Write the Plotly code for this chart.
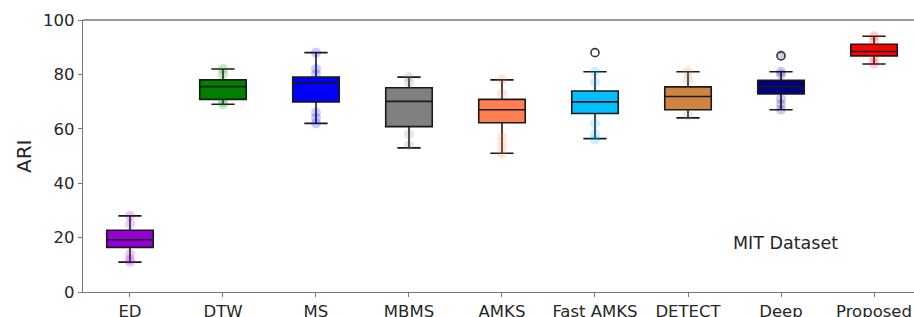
import plotly.graph_objects as go

categories = ["ED", "DTW", "MS", "MBMS", "AMKS", "Fast AMKS", "DETECT", "Deep", "Proposed"]
upper_whisker = [28, 82, 88, 79, 78, 81, 81, 81, 94]
q3_values = [22.7, 78, 79, 75.1, 70.8, 73.9, 75.4, 77.8, 91.1]
medians = [19.2, 75.5, 76.8, 70.1, 67, 69.9, 71.9, 75.5, 88.4]
q1_values = [16.4, 70.8, 69.9, 60.8, 62.2, 65.6, 67, 72.8, 86.8]
lower_whisker = [11, 69, 62, 53, 51, 56.4, 64, 67, 83.8]
outlier_cats = ["Fast AMKS", "Deep"]
outlier_vals = [88, 86.8]
box_colors = ["#9400D3", "#008000", "#0000FF", "#808080", "#FF7F50",
              "#00BFFF", "#CD853F", "#000080", "#FF0000"]
strip_points = {
    "ED": [28, 25, 14, 12, 11],
    "DTW": [82, 80, 70, 69],
    "MS": [88, 82, 80, 66, 64, 62],
    "MBMS": [79, 77, 58, 54],
    "AMKS": [78, 73, 57, 54, 51],
    "Fast AMKS": [81, 77, 62, 58, 56],
    "DETECT": [81, 78, 65],
    "Deep": [87, 81, 80, 71, 69, 67],
    "Proposed": [94, 92, 86, 84],
}
y_ticks = [0, 20, 40, 60, 80, 100]

FONT = "DejaVu Sans"
fig = go.Figure()

# faint strip points (drawn underneath)
for cat, col in zip(categories, box_colors):
    vals = strip_points[cat]
    fig.add_trace(go.Scatter(
        x=[cat] * len(vals), y=vals, mode="markers",
        marker=dict(color=col, size=10, opacity=0.2, line=dict(width=0)),
        showlegend=False, hoverinfo="skip"))

for i, cat in enumerate(categories):
    fig.add_trace(go.Box(
        x=[cat], q1=[q1_values[i]], median=[medians[i]], q3=[q3_values[i]],
        lowerfence=[lower_whisker[i]], upperfence=[upper_whisker[i]],
        fillcolor=box_colors[i], line=dict(color="#1a1a1a", width=1.6),
        width=0.5, whiskerwidth=0.5, boxpoints=False, showlegend=False))

fig.add_trace(go.Scatter(
    x=outlier_cats, y=outlier_vals, mode="markers",
    marker=dict(symbol="circle-open", size=8, color="#3a3a3a", line=dict(width=1.6)),
    showlegend=False))

fig.add_annotation(x=7.05, y=18, text="MIT Dataset", showarrow=False,
                   font=dict(family=FONT, size=17.5, color="#262626"))

fig.add_annotation(xref="paper", yref="paper", x=-0.071, y=0.5, text="ARI",
                   textangle=-90, showarrow=False, xanchor="center", yanchor="middle",
                   font=dict(family=FONT, size=20, color="#262626"))

fig.add_shape(type="line", xref="paper", yref="paper", x0=0, x1=1, y0=1, y1=1,
              line=dict(color="#777777", width=1.3))

fig.update_layout(
    width=914, height=317,
    margin=dict(l=83, r=0, t=20, b=25, autoexpand=False),
    paper_bgcolor="white", plot_bgcolor="white",
    font=dict(family=FONT, color="#262626"),
    xaxis=dict(type="category", categoryorder="array", categoryarray=categories,
               range=[-0.505, 8.43], showline=True, linecolor="#777777", linewidth=1.3,
               ticks="outside", ticklen=4, tickcolor="#777777", showgrid=False,
               zeroline=False, automargin=False,
               tickfont=dict(family=FONT, size=16.5, color="#262626")),
    yaxis=dict(range=[0, 100], tickvals=y_ticks, showline=True, linecolor="#777777",
               linewidth=1.3, ticks="outside", ticklen=4, tickcolor="#777777",
               showgrid=False, zeroline=False, automargin=False,
               tickfont=dict(family=FONT, size=16.5, color="#262626")),
)

# remove the browser's default 8px page margin so the figure fills the window
page_css = "document.body.style.margin='0';document.body.style.overflow='hidden';"
fig.write_html("out.html", post_script=page_css, config={"displayModeBar": False})
